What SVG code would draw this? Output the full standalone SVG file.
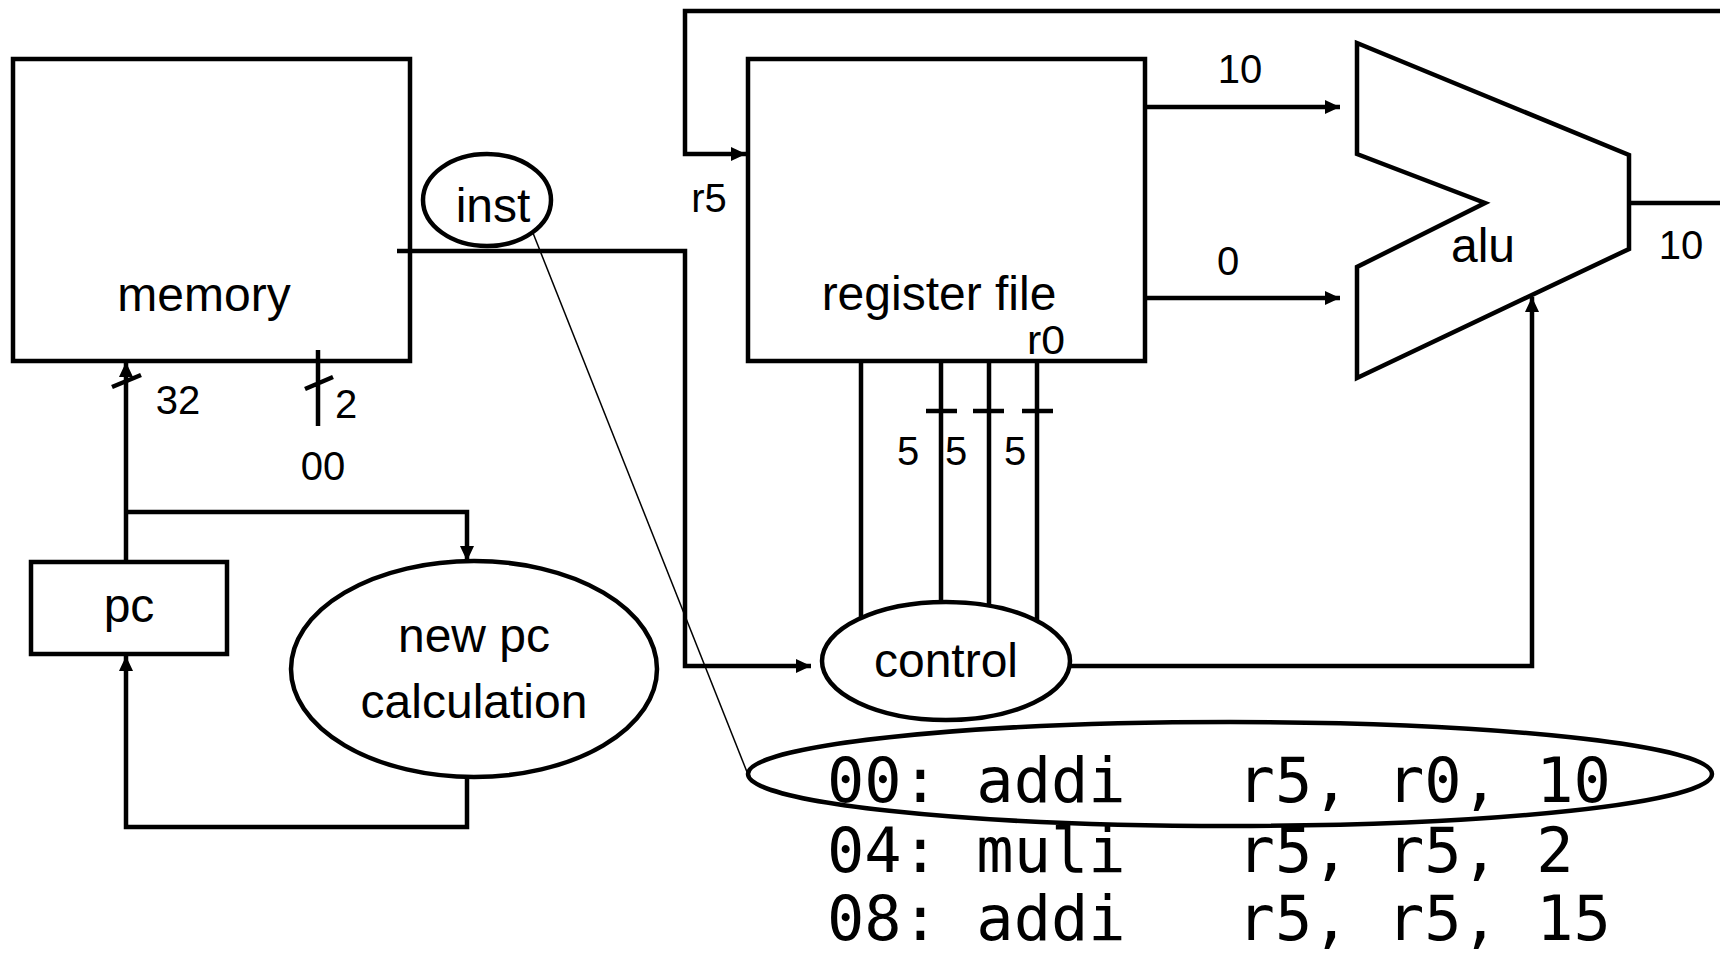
<svg xmlns="http://www.w3.org/2000/svg" width="1720" height="954" viewBox="0 0 1720 954">
<style>
.box{fill:none;stroke:#000;stroke-width:4.5}
.wire{fill:none;stroke:#000;stroke-width:4.5}
.thin{fill:none;stroke:#000;stroke-width:1.5}
.lbl{font-family:"Liberation Sans",Arial,sans-serif;font-size:48px;fill:#000;text-anchor:middle}
.num{font-family:"Liberation Sans",Arial,sans-serif;font-size:40px;fill:#000;text-anchor:middle}
.code{font-family:"DejaVu Sans Mono","Liberation Mono",monospace;font-size:62px;fill:#000}
</style>
<defs>
<marker id="arr" markerUnits="userSpaceOnUse" markerWidth="16" markerHeight="14" refX="15" refY="7" orient="auto">
<path d="M0,0 L15,7 L0,14 z" fill="#000"/>
</marker>
</defs>
<rect width="1720" height="954" fill="#fff"/>

<g id="connectors">
<path class="wire" d="M1720,11 H685 V154 H746" marker-end="url(#arr)"/>
<path class="wire" d="M397,251 H685 V666 H811" marker-end="url(#arr)"/>
<path class="wire" d="M1146,107 H1340" marker-end="url(#arr)"/>
<path class="wire" d="M1146,298 H1340" marker-end="url(#arr)"/>
<path class="wire" d="M1629,203 H1720"/>
<path class="wire" d="M1070,666 H1532 V297" marker-end="url(#arr)"/>
<path class="wire" d="M126,562 V362" marker-end="url(#arr)"/>
<path class="wire" d="M126,512 H467 V561" marker-end="url(#arr)"/>
<path class="wire" d="M467,777 V827 H126 V656" marker-end="url(#arr)"/>
<path class="wire" d="M861,361 V618 M941,361 V602 M989,361 V606 M1037,361 V620"/>
<path class="wire" d="M926,411 H957 M973,411 H1004 M1022,411 H1053"/>
<path class="wire" d="M112,387 L141,375"/>
<path class="wire" d="M318,350 V426 M305,389 L333,377"/>
<path class="thin" d="M533,233 L747,772"/>
</g>

<g id="memory">
<rect class="box" x="13" y="59" width="397" height="302"/>
<text class="lbl" x="204" y="311">memory</text>
</g>
<g id="inst">
<ellipse class="box" cx="487" cy="200" rx="64" ry="46" fill="#fff"/>
<text class="lbl" x="493" y="222">inst</text>
</g>
<g id="register-file">
<rect class="box" x="748" y="59" width="397" height="302"/>
<text class="lbl" x="939" y="310">register file</text>
<text class="num" x="1046" y="354" font-size="36" textLength="38" lengthAdjust="spacingAndGlyphs">r0</text>
</g>
<g id="alu">
<path class="box" d="M1357,43 L1629,155 L1629,249 L1357,378 L1357,267 L1485,203 L1357,154 Z"/>
<text class="lbl" x="1483" y="262">alu</text>
</g>
<g id="control">
<ellipse class="box" cx="946" cy="661" rx="124" ry="59"/>
<text class="lbl" x="946" y="677">control</text>
</g>
<g id="pc">
<rect class="box" x="31" y="562" width="196" height="92"/>
<text class="lbl" x="129" y="622">pc</text>
</g>
<g id="new-pc">
<ellipse class="box" cx="474" cy="669" rx="183" ry="108"/>
<text class="lbl" x="474" y="652">new pc</text>
<text class="lbl" x="474" y="718">calculation</text>
</g>
<g id="labels">
<text class="num" x="1240" y="83">10</text>
<text class="num" x="1228" y="275">0</text>
<text class="num" x="1681" y="259">10</text>
<text class="num" x="709" y="212" font-size="38">r5</text>
<text class="num" x="178" y="414" font-size="41">32</text>
<text class="num" x="346" y="418" font-size="41">2</text>
<text class="num" x="323" y="480" font-size="46">00</text>
<text class="num" x="908" y="465" font-size="42">5</text>
<text class="num" x="956" y="465" font-size="42">5</text>
<text class="num" x="1015" y="465" font-size="42">5</text>
</g>
<g id="code">
<ellipse class="box" cx="1230" cy="774" rx="482" ry="52"/>
<text class="code" x="827" y="802" xml:space="preserve">00: addi   r5, r0, 10</text>
<text class="code" x="827" y="872" xml:space="preserve">04: muli   r5, r5, 2</text>
<text class="code" x="827" y="940" xml:space="preserve">08: addi   r5, r5, 15</text>
</g>
</svg>
